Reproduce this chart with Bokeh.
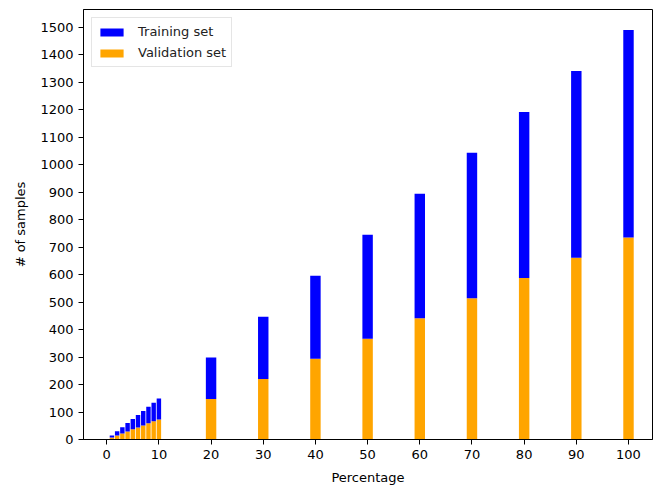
from bokeh.plotting import figure
from bokeh.models import ColumnDataSource, Legend, LegendItem, FixedTicker, Range1d
from bokeh.embed import file_html
from bokeh.resources import INLINE

# Percentages of the dataset used and resulting sample counts
percentages = [1, 2, 3, 4, 5, 6, 7, 8, 9, 10, 20, 30, 40, 50, 60, 70, 80, 90, 100]
validation = [7, 15, 22, 29, 37, 44, 51, 59, 66, 73, 147, 220, 294, 367, 441, 514, 588, 661, 735]
training = [8, 15, 23, 31, 38, 45, 53, 60, 68, 76, 151, 227, 302, 378, 453, 529, 604, 680, 755]
bar_widths = [0.85] * 10 + [2.0] * 9

x_ticks = list(range(0, 101, 10))
y_ticks = list(range(0, 1501, 100))

FONT = "DejaVu Sans"

source = ColumnDataSource(dict(
    pct=percentages,
    validation=validation,
    training=training,
    width=bar_widths,
))

p = figure(
    width=653, height=488,
    output_backend="svg", toolbar_location=None,
    x_range=Range1d(-4.45, 104.6),
    y_range=Range1d(0, 1564.5),
    min_border_left=83, min_border_right=1,
    min_border_top=9, min_border_bottom=49,
)

renderers = p.vbar_stack(
    ["validation", "training"], x="pct", width="width", source=source,
    color=["orange", "blue"], line_color=None,
)

legend = Legend(
    items=[
        LegendItem(label="Training set", renderers=[renderers[1]]),
        LegendItem(label="Validation set", renderers=[renderers[0]]),
    ],
    location="top_left",
    margin=8,
    padding=5,
    spacing=4,
    glyph_width=29,
    glyph_height=10,
    label_height=17,
    label_standoff=12,
    label_text_font=FONT,
    label_text_font_size="13px",
    label_text_color="#222222",
    border_line_color="#cccccc",
    border_line_width=1,
    background_fill_alpha=0.8,
)
p.add_layout(legend)

p.xgrid.visible = False
p.ygrid.visible = False
p.outline_line_color = "black"
p.outline_line_width = 1

p.xaxis.ticker = FixedTicker(ticks=x_ticks)
p.yaxis.ticker = FixedTicker(ticks=y_ticks)
p.xaxis.axis_label = "Percentage"
p.yaxis.axis_label = "# of samples"

for ax in (p.xaxis, p.yaxis):
    ax.axis_label_text_font = FONT
    ax.axis_label_text_font_size = "13px"
    ax.axis_label_text_font_style = "normal"
    ax.axis_label_text_color = "black"
    ax.major_label_text_font = FONT
    ax.major_label_text_font_size = "13px"
    ax.major_label_text_color = "black"
    ax.major_tick_in = 0
    ax.major_tick_out = 5
    ax.minor_tick_in = 0
    ax.minor_tick_out = 0
    ax.axis_line_color = "black"
    ax.major_tick_line_color = "black"

p.yaxis.major_label_orientation = "horizontal"
p.xaxis.axis_label_standoff = 8
p.yaxis.axis_label_standoff = 9

open("out.html", "w").write(file_html(p, INLINE))
